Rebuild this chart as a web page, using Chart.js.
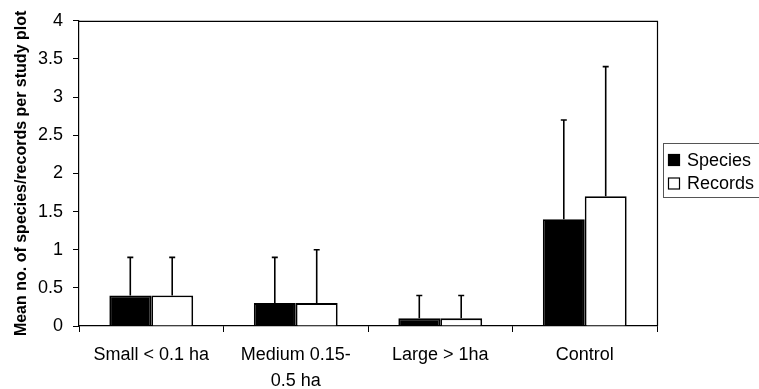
<!DOCTYPE html>
<html>
<head>
<meta charset="utf-8">
<style>
  html, body { margin: 0; padding: 0; background: #fff; }
  #wrap { width: 759px; height: 389px; position: relative; }
</style>
<script src="https://cdn.jsdelivr.net/npm/chart.js@4/dist/chart.umd.min.js"></script>
</head>
<body>
<div id="wrap"><canvas id="plotChart"></canvas></div>
<script>
// Data
const categories = ['Small < 0.1 ha', ['Medium 0.15-', '0.5 ha'], 'Large > 1ha', 'Control'];
const seriesNames = ['Species', 'Records'];
const speciesMean = [0.4, 0.3, 0.1, 1.4];
const recordsMean = [0.4, 0.3, 0.1, 1.7];
// upper end of each error bar
const speciesUpper = [0.9, 0.9, 0.4, 2.7];
const recordsUpper = [0.9, 1.0, 0.4, 3.4];
const yTicks = [0, 0.5, 1, 1.5, 2, 2.5, 3, 3.5, 4];

const FONT = "'Liberation Sans', Arial, sans-serif";

// Error bars (upward only) drawn through the chart's own scales
const errorBars = {
    id: 'errorBars',
    afterDatasetsDraw(chart) {
        const ctx = chart.ctx;
        const y = chart.scales.y;
        ctx.save();
        ctx.strokeStyle = '#000';
        ctx.lineWidth = 1.6;
        chart.data.datasets.forEach((ds, i) => {
            const meta = chart.getDatasetMeta(i);
            meta.data.forEach((bar, j) => {
                const top = y.getPixelForValue(ds.upper[j]);
                ctx.beginPath();
                ctx.moveTo(bar.x, bar.y);
                ctx.lineTo(bar.x, top);
                ctx.moveTo(bar.x - 3, top);
                ctx.lineTo(bar.x + 3, top);
                ctx.stroke();
            });
        });
        ctx.restore();
    }
};

// Frame round the plot area plus the boxed legend on the right
const frameAndLegend = {
    id: 'frameAndLegend',
    afterDraw(chart) {
        const ctx = chart.ctx;
        const a = chart.chartArea;
        ctx.save();
        ctx.strokeStyle = '#000';
        ctx.lineWidth = 1.2;
        ctx.beginPath();
        ctx.moveTo(a.left, a.top + 0.5);
        ctx.lineTo(a.right + 0.5, a.top + 0.5);
        ctx.lineTo(a.right + 0.5, a.bottom);
        ctx.stroke();

        // legend
        const lx = a.right + 6.5, ly = 143.5;
        ctx.strokeStyle = '#555';
        ctx.lineWidth = 1;
        ctx.strokeRect(lx, ly, 110, 54);
        ctx.font = '18px ' + FONT;
        ctx.textBaseline = 'middle';
        chart.data.datasets.forEach((ds, i) => {
            const cy = 160 + i * 23.5;
            ctx.fillStyle = ds.backgroundColor;
            ctx.fillRect(668, cy - 6, 12, 12);
            ctx.strokeStyle = '#000';
            ctx.lineWidth = 1.2;
            ctx.strokeRect(668.5, cy - 5.5, 11, 11);
            ctx.fillStyle = '#000';
            ctx.fillText(ds.label, 687, cy + 1);
        });
        ctx.restore();
    }
};

new Chart(document.getElementById('plotChart'), {
    type: 'bar',
    data: {
        labels: categories,
        datasets: [
            {
                label: seriesNames[0],
                data: speciesMean,
                upper: speciesUpper,
                backgroundColor: '#000',
                borderColor: '#000',
                borderWidth: 1.8
            },
            {
                label: seriesNames[1],
                data: recordsMean,
                upper: recordsUpper,
                backgroundColor: '#fff',
                borderColor: '#000',
                borderWidth: 1.8
            }
        ]
    },
    options: {
        responsive: true,
        maintainAspectRatio: false,
        animation: false,
        categoryPercentage: 0.58,
        barPercentage: 1.0,
        layout: { padding: { top: 14, right: 102, bottom: 0, left: 0 } },
        plugins: {
            legend: { display: false },
            tooltip: { enabled: false }
        },
        scales: {
            x: {
                afterFit: (s) => { s.height = 63; },
                border: { color: '#000', width: 1.2 },
                grid: { drawOnChartArea: false, tickLength: 6, color: '#000', offset: true },
                ticks: {
                    color: '#000',
                    padding: 10,
                    maxRotation: 0,
                    autoSkip: false,
                    font: { family: FONT, size: 18, lineHeight: 1.45 }
                }
            },
            y: {
                min: 0,
                max: 4,
                afterFit: (s) => { s.width = 79; },
                afterBuildTicks: (s) => { s.ticks = yTicks.map(v => ({ value: v })); },
                border: { color: '#000', width: 1.2 },
                grid: { drawOnChartArea: false, tickLength: 6, color: '#000' },
                ticks: {
                    color: '#000',
                    padding: 10,
                    callback: (v) => String(v),
                    font: { family: FONT, size: 18 }
                },
                title: {
                    display: true,
                    text: 'Mean no. of species/records per study plot',
                    color: '#000',
                    padding: { top: 12, bottom: 0 },
                    font: { family: FONT, size: 16, weight: 'bold' }
                }
            }
        }
    },
    plugins: [errorBars, frameAndLegend]
});
</script>
</body>
</html>
